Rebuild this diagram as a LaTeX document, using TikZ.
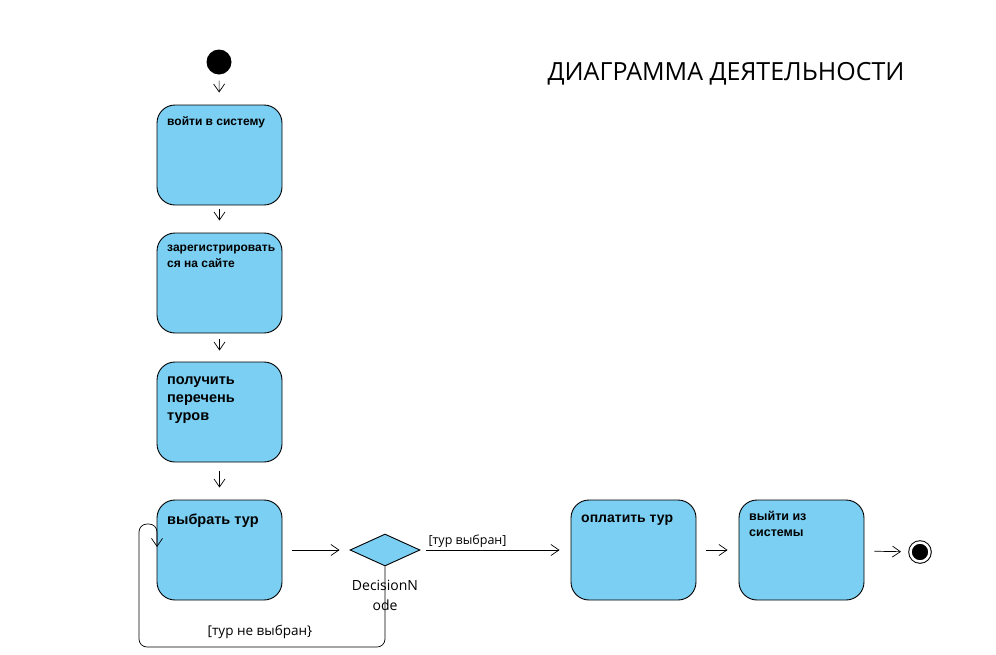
\documentclass[tikz,border=0pt]{standalone}
\usepackage{fontspec}
\setmainfont{Liberation Sans}
\newfontfamily\titlefont{Open Sans}
\usetikzlibrary{arrows.meta,shapes.geometric}
\definecolor{actblue}{RGB}{122,207,243}
\tikzset{>={Straight Barb[length=8pt,width=11pt]}}
\tikzset{
	act/.style={draw, line width=0.9pt, fill=actblue, rounded corners=18pt,
			minimum width=125pt, minimum height=100pt},
	acttext/.style={anchor=north west, align=left, inner sep=0pt, font=\bfseries},
	flow/.style={->, line width=0.7pt},
	guard/.style={font=\titlefont\fontsize{12.5}{14}\selectfont}
}

\begin{document}
\begin{tikzpicture}[x=1pt,y=-1pt]
	\useasboundingbox (0,0) rectangle (996,654);

	\node[circle, fill=black, minimum size=25pt, inner sep=0pt] (start) at (219,62) {};

	\node[act] (login) at (219.5,155) {};
	\node[acttext, font=\bfseries\fontsize{12}{15}\selectfont] at (167,116) {войти в систему};

	\node[act] (register) at (219.5,283) {};
	\node[acttext, font=\bfseries\fontsize{12}{15.5}\selectfont] at (167,245) {зарегистрировать\\ся на сайте};

	\node[act] (list) at (219.5,412) {};
	\node[acttext, font=\bfseries\fontsize{14.5}{18}\selectfont] at (167,376) {получить\\перечень\\туров};

	\node[act] (pick) at (219.5,550) {};
	\node[acttext, font=\bfseries\fontsize{14.5}{18}\selectfont] at (167,514) {выбрать тур};

	\node[diamond, draw, line width=0.9pt, fill=actblue, minimum width=70pt, minimum height=32pt,
		inner sep=0pt, aspect=2.2] (dec) at (385,550) {};
	\node[align=center, font=\titlefont\fontsize{14}{20}\selectfont] (declabel) at (385,595) {DecisionN\\ode};

	\node[act] (pay) at (633.5,550) {};
	\node[acttext, font=\bfseries\fontsize{14}{17}\selectfont] at (581,515) {оплатить тур};

	\node[act] (logout) at (801.5,550) {};
	\node[acttext, font=\bfseries\fontsize{12.5}{16}\selectfont] at (749,511) {выйти из\\системы};

	\node[circle, fill=black, draw=black, double=white, double distance=2.5pt, line width=1pt,
		minimum size=19pt, inner sep=0pt] (stop) at (920,552) {};

	\node[font=\titlefont\fontsize{25}{30}\selectfont] (title) at (726,74) {ДИАГРАММА ДЕЯТЕЛЬНОСТИ};

	\draw[flow, shorten <=6pt, shorten >=12pt] (start) -- (login);
	\draw[flow, shorten <=4pt, shorten >=12pt] (login) -- (register);
	\draw[flow, shorten <=6pt, shorten >=11pt] (register) -- (list);
	\draw[flow, shorten <=9pt, shorten >=12pt] (list) -- (pick);
	\draw[flow, shorten <=10pt, shorten >=10pt] (pick) -- (dec);
	\draw[flow, shorten <=6pt, shorten >=11pt] (dec) -- node[guard, above, xshift=-28pt, yshift=-1pt] {[тур выбран]} (pay);
	\draw[flow, shorten <=10pt, shorten >=11pt] (pay) -- (logout);
	\draw[flow, shorten <=10pt, shorten >=9pt] (logout) -- (stop);

	\coordinate (back) at (157,547);
	\draw[flow, rounded corners=8pt] (dec.south) |- (139,647) |- (157,524) -- (back);
	\node[guard, font=\titlefont\fontsize{13.5}{15}\selectfont] (noguard) at (260,632) {[тур не выбран\}};
\end{tikzpicture}
\end{document}
